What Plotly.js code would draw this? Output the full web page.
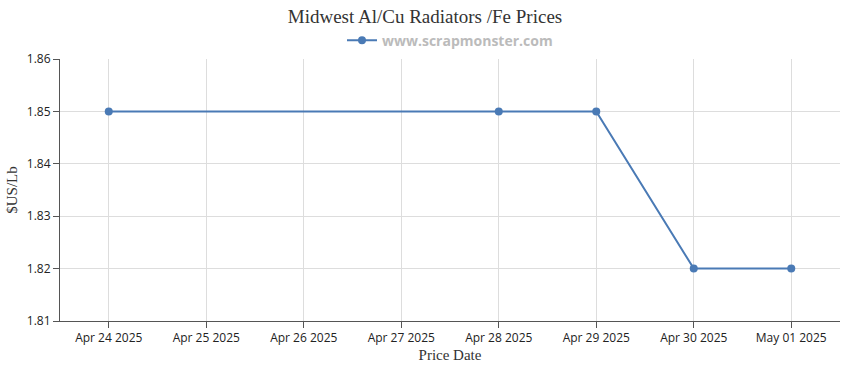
<!DOCTYPE html>
<html>
<head>
<meta charset="utf-8">
<script src="https://cdn.plot.ly/plotly-3.0.1.min.js"></script>
<style>html,body{margin:0;padding:0;background:#fff;}#chart{width:850px;height:370px;}</style>
</head>
<body>
<div id="chart"></div>
<script>
const dates = ['2025-04-24','2025-04-28','2025-04-29','2025-04-30','2025-05-01'];
const prices = [1.85, 1.85, 1.85, 1.82, 1.82];
const tickDates = ['2025-04-24','2025-04-25','2025-04-26','2025-04-27','2025-04-28','2025-04-29','2025-04-30','2025-05-01'];
const tickLabels = ['Apr 24 2025','Apr 25 2025','Apr 26 2025','Apr 27 2025','Apr 28 2025','Apr 29 2025','Apr 30 2025','May 01 2025'];
const yTicks = [1.81, 1.82, 1.83, 1.84, 1.85, 1.86];

const trace = {
  x: dates, y: prices, type: 'scatter', mode: 'lines+markers',
  name: 'www.scrapmonster.com',
  line: {color: '#4a7ab5', width: 2},
  marker: {color: '#4a7ab5', size: 8}
};
const tickFont = {family: 'Open Sans, DejaVu Sans, sans-serif', size: 12, color: '#222'};
const layout = {
  width: 850, height: 370,
  margin: {l: 60, r: 10, t: 59, b: 49},
  paper_bgcolor: '#fff', plot_bgcolor: '#fff',
  title: {text: 'Midwest Al/Cu Radiators /Fe Prices', x: 0.5, xanchor: 'center', y: 0.957, yanchor: 'middle',
    font: {family: 'Liberation Serif, DejaVu Serif, serif', size: 19, color: '#333'}},
  showlegend: true,
  legend: {orientation: 'h', x: 0.5, xanchor: 'center', y: 1.07, yanchor: 'middle', itemwidth: 30,
    font: {family: 'Open Sans, DejaVu Sans, sans-serif', size: 14, color: '#bbb', weight: 'bold'}},
  xaxis: {
    type: 'date', range: ['2025-04-23 12:00', '2025-05-01 12:00'],
    tickmode: 'array', tickvals: tickDates, ticktext: tickLabels,
    ticks: 'outside', ticklen: 6, tickcolor: '#555',
    showline: true, linecolor: '#555', linewidth: 1,
    showgrid: true, gridcolor: '#ddd', zeroline: false,
    tickfont: tickFont,
    title: {text: 'Price Date', standoff: 4, font: {family: 'Liberation Serif, DejaVu Serif, serif', size: 15, color: '#333'}}
  },
  yaxis: {
    range: [1.81, 1.86], tickmode: 'array', tickvals: yTicks, ticktext: yTicks.map(v => v.toFixed(2)),
    ticks: 'outside', ticklen: 6, tickcolor: '#555',
    showline: true, linecolor: '#555', linewidth: 1,
    showgrid: true, gridcolor: '#ddd', zeroline: false,
    tickfont: tickFont,
    title: {text: '$US/Lb', standoff: 5, font: {family: 'Liberation Serif, DejaVu Serif, serif', size: 15, color: '#333'}}
  }
};
Plotly.newPlot('chart', [trace], layout, {displayModeBar: false, staticPlot: true});
</script>
</body>
</html>
